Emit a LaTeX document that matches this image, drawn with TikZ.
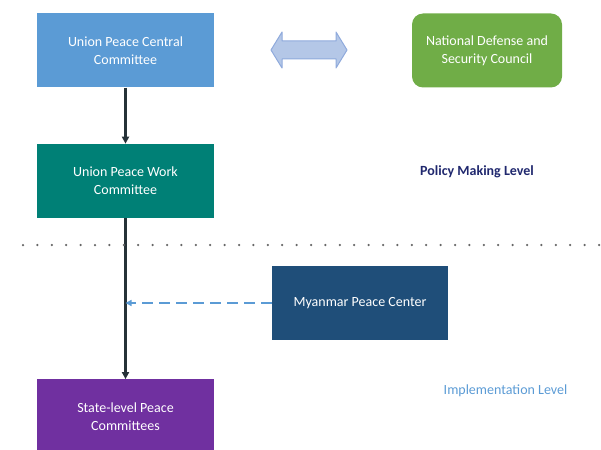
\documentclass[tikz,border=0pt]{standalone}
\usepackage{fontspec}
\setmainfont{Carlito}
\usetikzlibrary{positioning,arrows.meta}

\definecolor{centralblue}{RGB}{91,155,213}
\definecolor{workteal}{RGB}{0,128,118}
\definecolor{statepurple}{RGB}{112,48,160}
\definecolor{councilgreen}{RGB}{112,173,71}
\definecolor{centernavy}{RGB}{31,78,121}
\definecolor{linkdark}{RGB}{38,50,56}
\definecolor{levelnavy}{RGB}{32,40,110}
\definecolor{arrowfill}{RGB}{180,199,231}
\definecolor{arrowedge}{RGB}{143,170,220}

\tikzset{
  orgbox/.style={minimum width=177pt, minimum height=74pt, inner sep=0pt,
    align=center, text=white, font=\fontsize{14}{18}\selectfont},
  level/.style={font=\fontsize{14}{18}\selectfont},
  link/.style={draw=linkdark, line width=2.2pt, -{Triangle[length=7pt,width=7pt]}},
}

\begin{document}
\begin{tikzpicture}[x=1pt, y=1pt]
      \useasboundingbox (0,0) rectangle (601,-449);
      \node[orgbox, fill=centralblue] (central) at (125.5,-50.5) {Union Peace Central\\Committee};
      \node[orgbox, fill=workteal, below=56pt of central] (work) {Union Peace Work\\Committee};
      \node[orgbox, fill=statepurple, below=161pt of work] (state) {State-level Peace\\Committees};
      \node[orgbox, fill=councilgreen, minimum width=150pt, rounded corners=11pt] (council) at (487,-50.5) {National Defense and\\Security Council};
      \node[orgbox, fill=centernavy, minimum width=176pt] (center) at (360,-303) {Myanmar Peace Center};
      \node[level, text=levelnavy, font=\bfseries\fontsize{14}{18}\selectfont] (policy) at (477,-172) {Policy Making Level};
      \node[level, text=centralblue] (impl) at (505.5,-391) {Implementation Level};
      % double arrow between the two councils
      \coordinate (link) at (309,-50);
      \draw[arrowedge, fill=arrowfill, line width=1pt, line join=round]
        ([xshift=-38pt]link) -- ++(11,18) -- ++(0,-9) -- ++(54,0) -- ++(0,9)
        -- ++(11,-18) -- ++(-11,-18) -- ++(0,9) -- ++(-54,0) -- ++(0,-9) -- cycle;
      \coordinate (dotsL) at (23,-245);
      \coordinate (dotsR) at (601,-245);
      \coordinate (join) at (work.south |- center.west);
      \draw[link] (central) -- (work);
      \draw[link] (work) -- (state);
      \draw[draw=centralblue, line width=2pt, dash pattern=on 11pt off 6pt,
        -{Triangle[length=6pt,width=6pt]}] (center.west) -- (join);
      \draw[gray!80!black, line width=2.5pt, line cap=round, dash pattern=on 0pt off 14.4pt] (dotsL) -- (dotsR);
    \end{tikzpicture}
\end{document}
